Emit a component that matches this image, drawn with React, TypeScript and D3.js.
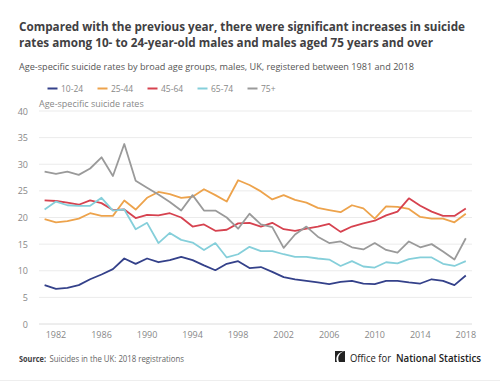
import React from "react";
import * as d3 from "d3";

const years = d3.range(1981, 2019);
const seriesNames = ["10-24", "25-44", "45-64", "65-74", "75+"];
const colors = ["#34418a", "#eda34c", "#d6424f", "#85cfda", "#9a9a9a"];

const v10_24 = [7.3, 6.6, 6.8, 7.3, 8.4, 9.3, 10.3, 12.3, 11.3, 12.3, 11.6, 12.0, 12.6, 12.0, 11.0, 10.1, 11.3, 11.8, 10.5, 10.7, 9.8, 8.8, 8.4, 8.1, 7.8, 7.5, 7.9, 8.1, 7.6, 7.5, 8.1, 8.1, 7.8, 7.6, 8.4, 8.1, 7.3, 9.1];
const v25_44 = [19.7, 19.1, 19.3, 19.8, 20.8, 20.3, 20.3, 23.2, 21.5, 23.7, 24.8, 24.4, 23.7, 23.9, 25.3, 24.2, 23.0, 27.0, 26.1, 24.9, 23.4, 24.2, 23.3, 22.8, 21.8, 21.4, 21.0, 22.3, 21.7, 19.8, 22.1, 22.0, 21.6, 20.1, 19.8, 19.8, 19.1, 20.7];
const v45_64 = [23.2, 23.1, 22.8, 22.4, 23.2, 22.7, 21.4, 21.5, 19.9, 20.5, 20.4, 20.8, 20.0, 18.3, 18.7, 17.5, 17.7, 18.9, 19.0, 18.3, 19.0, 17.8, 17.5, 17.9, 18.3, 18.8, 17.3, 18.3, 18.9, 19.4, 20.4, 21.1, 23.6, 22.2, 21.1, 20.3, 20.3, 21.7];
const v65_74 = [21.5, 23.0, 22.3, 22.2, 22.2, 23.7, 21.3, 21.5, 17.8, 19.0, 15.2, 17.1, 15.8, 15.3, 13.9, 15.2, 12.5, 13.1, 14.5, 13.7, 13.7, 13.1, 12.6, 12.6, 12.3, 12.1, 10.9, 11.8, 10.8, 10.6, 11.6, 11.4, 12.2, 12.5, 12.5, 11.3, 10.9, 11.8];
const v75plus = [28.6, 28.2, 28.6, 28.0, 29.2, 31.3, 27.8, 33.8, 26.9, 25.6, 24.3, 22.9, 21.3, 24.2, 21.3, 21.3, 20.0, 17.9, 20.7, 18.7, 18.2, 14.3, 16.8, 18.3, 16.4, 15.2, 15.5, 14.4, 14.0, 15.2, 13.9, 13.4, 15.5, 14.4, 15.0, 13.6, 12.1, 16.1];
const allSeries = [v10_24, v25_44, v45_64, v65_74, v75plus];

const yTicks = [0, 5, 10, 15, 20, 25, 30, 35, 40];
const xTicks = [1982, 1986, 1990, 1994, 1998, 2002, 2006, 2010, 2014, 2018];

const FONT = "'Open Sans', sans-serif";

export default function App() {
  const W = 500, H = 381;
  const x = d3.scaleLinear().domain([1981, 2018]).range([44.6, 465.8]);
  const y = d3.scaleLinear().domain([0, 40]).range([324, 111]);
  const line = d3.line<number>().x((_, i) => x(years[i])).y((d) => y(d));

  return (
    <svg width={W} height={H} style={{ position: "absolute", left: 0, top: 0, background: "#fff" }} fontFamily={FONT}>
      <rect width={W} height={H} fill="#fff" />
      <text x={19} y={31} fontSize={12.5} fontWeight={700} fill="#414042" textLength={446} lengthAdjust="spacingAndGlyphs">Compared with the previous year, there were significant increases in suicide</text>
      <text x={19} y={47} fontSize={12.5} fontWeight={700} fill="#414042" textLength={414} lengthAdjust="spacingAndGlyphs">rates among 10- to 24-year-old males and males aged 75 years and over</text>
      <text x={19} y={70} fontSize={9.6} fill="#555" textLength={395} lengthAdjust="spacingAndGlyphs">Age-specific suicide rates by broad age groups, males, UK, registered between 1981 and 2018</text>

      {seriesNames.map((n, i) => (
        <g key={n} transform={`translate(${47.5 + i * 50},0)`}>
          <line x1={0} x2={10} y1={88.5} y2={88.5} stroke={colors[i]} strokeWidth={2} />
          <text x={13.5} y={92} fontSize={8.5} fill="#888">{n}</text>
        </g>
      ))}

      {yTicks.map((t) => (
        <g key={t}>
          <line x1={39} x2={472} y1={y(t)} y2={y(t)} stroke={t === 0 ? "#dcdcdc" : "#ebebeb"} strokeWidth={1} />
          <text x={28} y={y(t) + 3.5} fontSize={9} fill="#888" textAnchor="end">{t}</text>
        </g>
      ))}
      <text x={39} y={107} fontSize={9} fill="#888">Age-specific suicide rates</text>

      {xTicks.map((t) => (
        <text key={t} x={x(t)} y={338} fontSize={9} fill="#888" textAnchor="middle">{t}</text>
      ))}

      {allSeries.map((s, i) => (
        <path key={i} d={line(s) || ""} fill="none" stroke={colors[i]} strokeWidth={1.8} strokeLinejoin="round" />
      ))}

      <text x={19} y={362} fontSize={8.5} fontWeight={700} fill="#414042" textLength={27} lengthAdjust="spacingAndGlyphs">Source:</text>
      <text x={49.5} y={362} fontSize={8.5} fill="#666" textLength={134.5} lengthAdjust="spacingAndGlyphs">Suicides in the UK: 2018 registrations</text>

      <g transform="translate(335,351)">
        <rect x={0} y={0} width={10} height={11} fill="#222" />
        <path d="M10,0 C4,2 2,6 4,11 L2,11 C0,6 3,1 10,0 Z" fill="#fff" />
      </g>
      <text x={350} y={361.5} fontSize={11} fill="#222" textLength={41} lengthAdjust="spacingAndGlyphs">Office for</text>
      <text x={396} y={361.5} fontSize={11} fontWeight={600} fill="#222" textLength={85} lengthAdjust="spacingAndGlyphs">National Statistics</text>
      <line x1={0} x2={500} y1={380.5} y2={380.5} stroke="#eee" />
    </svg>
  );
}
